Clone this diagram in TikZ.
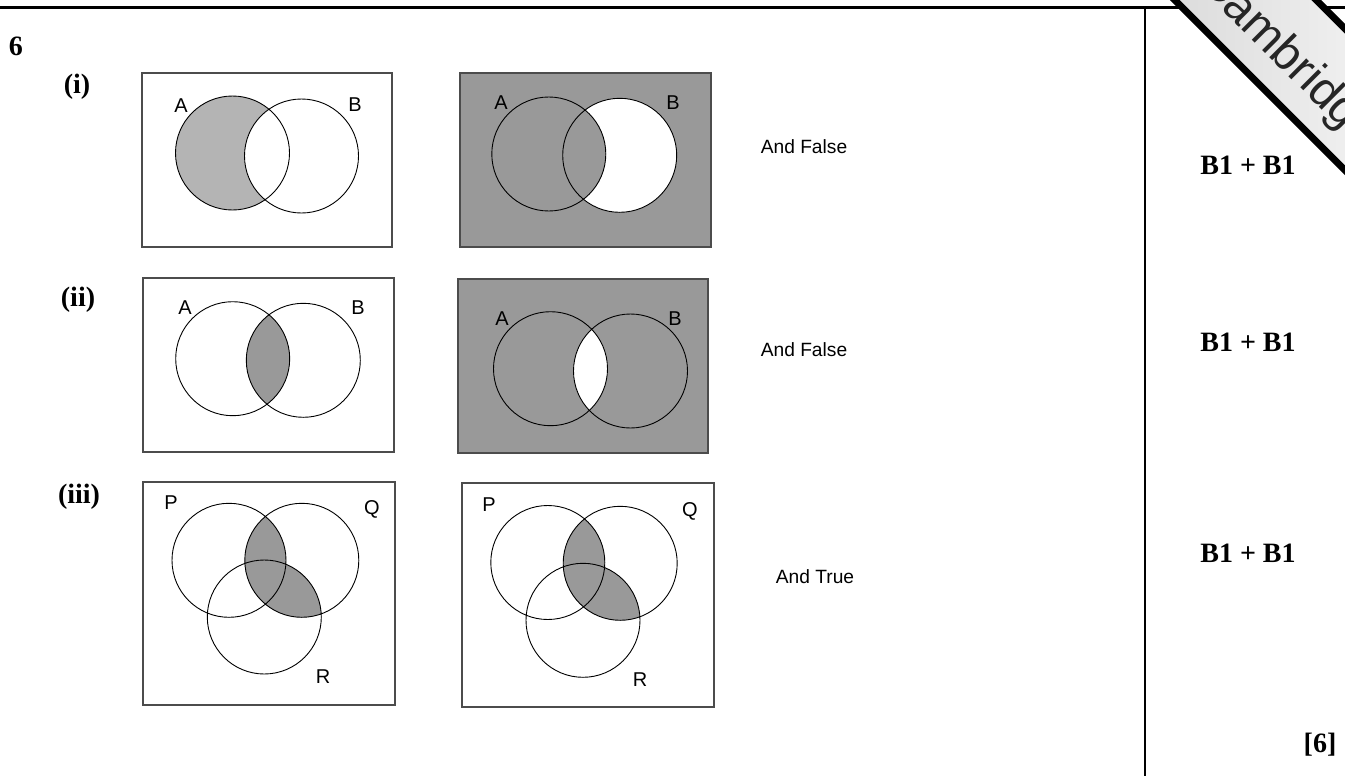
\documentclass[tikz,border=0pt]{standalone}
\usepackage{fontspec}
\setmainfont{Liberation Serif}
\setsansfont{Liberation Sans}
\usepackage{tikz}
\usetikzlibrary{calc,positioning}
\tikzstyle{frame}=[draw=black!70,line width=0.7pt]
\tikzstyle{ring}=[draw=black,line width=0.45pt]
\tikzstyle{setlbl}=[font=\sffamily\fontsize{10}{12}\selectfont,inner sep=0pt]
\tikzstyle{qlbl}=[font=\bfseries\fontsize{14}{16}\selectfont,inner sep=0pt]
\tikzstyle{answer}=[font=\sffamily\fontsize{9.6}{11}\selectfont,inner sep=0pt]
\tikzstyle{ribbon}=[draw=black,line width=3.5pt,left color=gray!35,right color=white,minimum width=240pt,minimum height=50pt,inner sep=0pt]
\definecolor{venngray}{RGB}{153,153,153}
\definecolor{vennlight}{RGB}{180,180,180}

\begin{document}
\begin{tikzpicture}[x=0.5pt,y=-0.5pt]
            \useasboundingbox (0,0) rectangle (1345,776);
            \def\r{57}
            % circle centres
            \coordinate (iA) at (232.5,153);
            \coordinate (iB) at (301.5,156);
            \coordinate (jA) at (548.8,154);
            \coordinate (jB) at (619.7,155.3);
            \coordinate (kA) at (232.7,358.7);
            \coordinate (kB) at (303.3,360.3);
            \coordinate (lA) at (550.5,368.7);
            \coordinate (lB) at (630.5,371);
            \coordinate (mP) at (229,560.3);
            \coordinate (mQ) at (301.8,560.3);
            \coordinate (mR) at (264.3,617);
            \coordinate (nP) at (547.8,562.5);
            \coordinate (nQ) at (620.2,563.3);
            \coordinate (nR) at (583,620.3);
            % table lines
            \draw[line width=1.5pt] (0,7) -- (1345,7);
            \draw[line width=1pt] (1145,7) -- (1145,776);
            \node[qlbl] (qsix) at (16,46) {6};
            \node[qlbl] (qi) at (77,87) {(i)};
            \node[qlbl] (qii) at (78,300) {(ii)};
            \node[qlbl] (qiii) at (79,497) {(iii)};
            % (i)
            \draw[frame] (142,73) rectangle (392,247);
            \fill[vennlight] (iA) circle (\r);
            \fill[white] (iB) circle (\r);
            \draw[ring] (iA) circle (\r) (iB) circle (\r);
            \node[setlbl] (iAl) at (181,106) {A};
            \node[setlbl] (iBl) at (355,105) {B};
            \fill[venngray] (460,73) rectangle (711,247);
            \fill[white] (jB) circle (\r);
            \fill[venngray] (jA) circle (\r);
            \draw[frame] (460,73) rectangle (711,247);
            \draw[ring] (jA) circle (\r) (jB) circle (\r);
            \node[setlbl] (jAl) at (501,103) {A};
            \node[setlbl] (jBl) at (673,103) {B};
            \node[answer] (ansi) at (804,147) {And False};
            % (ii)
            \draw[frame] (143,278) rectangle (394,452);
            \begin{scope}
                \clip (kA) circle (\r);
                \fill[venngray] (kB) circle (\r);
            \end{scope}
            \draw[ring] (kA) circle (\r) (kB) circle (\r);
            \node[setlbl] (kAl) at (185,308) {A};
            \node[setlbl] (kBl) at (358,308) {B};
            \fill[venngray] (458,279) rectangle (708,453);
            \begin{scope}
                \clip (lA) circle (\r);
                \fill[white] (lB) circle (\r);
            \end{scope}
            \draw[frame] (458,279) rectangle (708,453);
            \draw[ring] (lA) circle (\r) (lB) circle (\r);
            \node[setlbl] (lAl) at (502,319) {A};
            \node[setlbl] (lBl) at (675,319) {B};
            \node[answer] (ansii) at (804,350) {And False};
            % (iii)
            \draw[frame] (143,482) rectangle (395,705);
            \begin{scope}
                \clip (mQ) circle (\r);
                \fill[venngray] (mP) circle (\r);
                \fill[venngray] (mR) circle (\r);
            \end{scope}
            \draw[ring] (mP) circle (\r) (mQ) circle (\r) (mR) circle (\r);
            \node[setlbl] (mPl) at (171,503) {P};
            \node[setlbl] (mQl) at (372,509) {Q};
            \node[setlbl] (mRl) at (323,677) {R};
            \draw[frame] (462,483) rectangle (714,707);
            \begin{scope}
                \clip (nQ) circle (\r);
                \fill[venngray] (nP) circle (\r);
                \fill[venngray] (nR) circle (\r);
            \end{scope}
            \draw[ring] (nP) circle (\r) (nQ) circle (\r) (nR) circle (\r);
            \node[setlbl] (nPl) at (489,505) {P};
            \node[setlbl] (nQl) at (690,511) {Q};
            \node[setlbl] (nRl) at (640,680) {R};
            \node[answer] (ansiii) at (815,577) {And True};
            % marks
            \node[qlbl] (mki) at (1248,165) {B1 + B1};
            \node[qlbl] (mkii) at (1248,342) {B1 + B1};
            \node[qlbl] (mkiii) at (1248,553) {B1 + B1};
            \node[qlbl] (total) at (1320,745) {[6]};
            % corner watermark
            \begin{scope}
                \clip (0,0) rectangle (1345,776);
                \node[ribbon,rotate=-45] (crest) at (1291.5,46) {};
                \node[rotate=-45,text=black!85,font=\sffamily\fontsize{24}{28}\selectfont] (crestText) at (1288,58) {Cambridge};
            \end{scope}
        \end{tikzpicture}
\end{document}
